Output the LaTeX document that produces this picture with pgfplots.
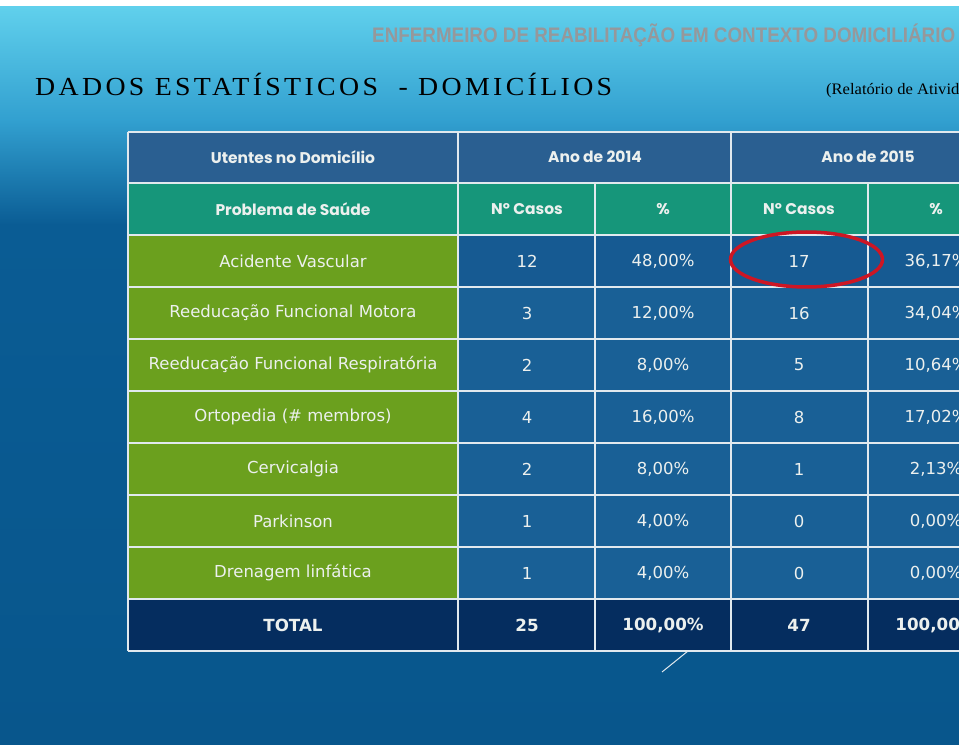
\documentclass[border=0pt]{standalone}
\usepackage{pgfplots}
\pgfplotsset{compat=1.18}
\usepackage{fontspec}
\setmainfont{DejaVu Sans}
\newfontfamily\hdrfont{Poppins}
\newfontfamily\ttlfont{Liberation Serif}[LetterSpace=12]
\newfontfamily\serfont{Liberation Serif}
\newfontfamily\topfont{Liberation Sans}
\definecolor{bgtop}{RGB}{96,208,236}
\definecolor{bgmid}{RGB}{50,160,208}
\definecolor{bgdark}{RGB}{10,92,148}
\definecolor{bgbot}{RGB}{8,86,140}
\definecolor{hdrblue}{RGB}{42,95,145}
\definecolor{teal}{RGB}{22,150,122}
\definecolor{leafgreen}{RGB}{107,160,30}
\definecolor{cellblue}{RGB}{25,96,150}
\definecolor{cellblueA}{RGB}{22,90,146}
\definecolor{navy}{RGB}{5,45,95}
\definecolor{gridc}{RGB}{225,233,238}
\definecolor{txt}{RGB}{236,240,238}
\definecolor{ovalred}{RGB}{205,22,36}
\definecolor{topgrey}{RGB}{150,152,155}
\pgfplotsset{
  cell/.style={draw=none, mark=none, point meta=explicit symbolic, nodes near coords,
    every node near coord/.append style={anchor=center, inner sep=0pt, text=txt, font=#1}},
}
\begin{document}
\begin{tikzpicture}
\begin{axis}[scale only axis, width=959bp, height=750bp,
  xmin=0, xmax=959, ymin=0, ymax=750, y dir=reverse, hide axis, clip=true]
% background
\fill[white] (axis cs:0,0) rectangle (axis cs:959,750);
\fill[top color=bgtop, bottom color=bgmid] (axis cs:0,7) rectangle (axis cs:959,120);
\fill[top color=bgmid, bottom color=bgdark] (axis cs:0,120) rectangle (axis cs:959,225);
\fill[top color=bgdark, bottom color=bgbot] (axis cs:0,225) rectangle (axis cs:959,745);
% table cells
\fill[hdrblue] (axis cs:128,132) rectangle (axis cs:1005,183);
\fill[teal] (axis cs:128,183) rectangle (axis cs:1005,235);
\fill[leafgreen] (axis cs:128,235) rectangle (axis cs:458,599);
\fill[cellblueA] (axis cs:458,235) rectangle (axis cs:1005,287);
\fill[cellblue] (axis cs:458,287) rectangle (axis cs:1005,599);
\fill[navy] (axis cs:128,599) rectangle (axis cs:1005,651);
% grid
\foreach \yy in {132,183,235,287,339,391,443,495,547,599,651}{
  \edef\tmp{\noexpand\draw[gridc, line width=2bp] (axis cs:128,\yy) -- (axis cs:1005,\yy);}\tmp}
\draw[gridc, line width=2bp] (axis cs:128,132) -- (axis cs:128,651);
\draw[gridc, line width=2bp] (axis cs:458,132) -- (axis cs:458,651);
\draw[gridc, line width=2bp] (axis cs:731,132) -- (axis cs:731,651);
\draw[gridc, line width=2bp] (axis cs:595,183) -- (axis cs:595,651);
\draw[gridc, line width=2bp] (axis cs:868,183) -- (axis cs:868,651);
% header texts
\addplot[cell={\hdrfont\bfseries\fontsize{15.5bp}{18bp}\selectfont}] coordinates {
  (293,157) [{Utentes no Domicílio}]
  (595,157) [{Ano de 2014}]
  (868,157) [{Ano de 2015}]
  (293,209) [{Problema de Saúde}]
  (527,209) [{Nº Casos}]
  (663,209) [{\%}]
  (799,209) [{Nº Casos}]
  (936,209) [{\%}]
};
% first column
\addplot[cell={\fontsize{16.5bp}{19bp}\selectfont}] coordinates {
  (293,261) [{Acidente Vascular}]
  (293,313) [{Reeducação Funcional Motora}]
  (293,365) [{Reeducação Funcional Respiratória}]
  (293,417) [{Ortopedia (\# membros)}]
  (293,469) [{Cervicalgia}]
  (293,521) [{Parkinson}]
  (293,573) [{Drenagem linfática}]
};
% 2014 cases
\addplot[cell={\fontsize{16.5bp}{19bp}\selectfont}] coordinates {
  (527,261) [{12}] (527,313) [{3}] (527,365) [{2}] (527,417) [{4}]
  (527,469) [{2}] (527,521) [{1}] (527,573) [{1}]
};
% 2014 pct
\addplot[cell={\fontsize{16.5bp}{19bp}\selectfont}] coordinates {
  (663,261) [{48,00\%}] (663,313) [{12,00\%}] (663,365) [{8,00\%}] (663,417) [{16,00\%}]
  (663,469) [{8,00\%}] (663,521) [{4,00\%}] (663,573) [{4,00\%}]
};
% 2015 cases
\addplot[cell={\fontsize{16.5bp}{19bp}\selectfont}] coordinates {
  (799,261) [{17}] (799,313) [{16}] (799,365) [{5}] (799,417) [{8}]
  (799,469) [{1}] (799,521) [{0}] (799,573) [{0}]
};
% 2015 pct
\addplot[cell={\fontsize{16.5bp}{19bp}\selectfont}] coordinates {
  (936,261) [{36,17\%}] (936,313) [{34,04\%}] (936,365) [{10,64\%}] (936,417) [{17,02\%}]
  (936,469) [{2,13\%}] (936,521) [{0,00\%}] (936,573) [{0,00\%}]
};
% totals
\addplot[cell={\bfseries\fontsize{16.7bp}{19bp}\selectfont}] coordinates {
  (293,625) [{TOTAL}] (527,625) [{25}] (663,625) [{100,00\%}] (799,625) [{47}] (936,625) [{100,00\%}]
};
% red oval
\draw[ovalred, line width=3.5bp] (axis cs:806.5,259.5) ellipse [x radius=76bp, y radius=27.5bp];
% small diagonal line
\draw[gridc, line width=1bp] (axis cs:688,651) -- (axis cs:662,672);
% titles
\node[anchor=base west, inner sep=0pt, text=topgrey] at (axis cs:372,43)
  {\resizebox{583bp}{\height}{\topfont\bfseries\fontsize{21bp}{24bp}\selectfont ENFERMEIRO DE REABILITAÇÃO EM CONTEXTO DOMICILIÁRIO}};
\node[anchor=base west, inner sep=0pt, text=black] at (axis cs:35,96)
  {\resizebox{577bp}{\height}{\ttlfont\fontsize{26bp}{30bp}\selectfont DADOS ESTATÍSTICOS\ \ - DOMICÍLIOS}};
\node[anchor=base west, inner sep=0pt, text=black] at (axis cs:826,95)
  {\resizebox{168bp}{\height}{\serfont\fontsize{16bp}{18bp}\selectfont (Relatório de Atividades)}};
\end{axis}
\pgfresetboundingbox
\path (current axis.south west) rectangle (current axis.north east);
\end{tikzpicture}
\end{document}
